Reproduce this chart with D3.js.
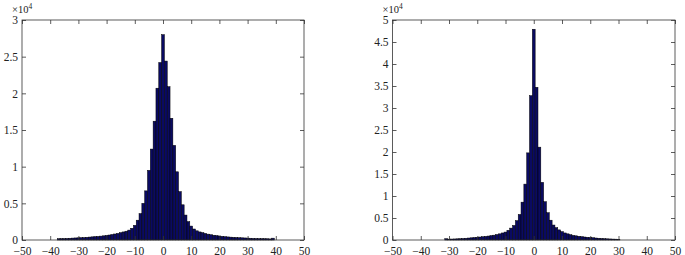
<!DOCTYPE html>
<html>
<head>
<meta charset="utf-8">
<script src="https://cdn.jsdelivr.net/npm/d3@7"></script>
<style>
  html, body { margin: 0; padding: 0; background: #fff; }
  svg { display: block; }
  text { font-family: "Liberation Serif", "DejaVu Serif", serif; fill: #222; }
</style>
</head>
<body>
<svg id="chart" width="685" height="255"></svg>
<script>
// ---------- DATA ----------
const xTicks = [-50, -40, -30, -20, -10, 0, 10, 20, 30, 40, 50];
const leftYTicks = [0, 0.5, 1, 1.5, 2, 2.5, 3];
const rightYTicks = [0, 0.5, 1, 1.5, 2, 2.5, 3, 3.5, 4, 4.5, 5];
const yExponent = "4";

// left histogram: bin centers -37 .. 39
const leftStart = -37;
const leftCounts = [
  180, 190, 200, 220, 240, 260, 280, 300, 320, 340, 370, 400, 430, 460, 490, 530, 570, 620, 680, 750,
  820, 900, 1000, 1100, 1200, 1350, 1600, 2000, 2700, 3600, 5000, 6700, 9500, 12400, 16200, 20700, 24200,
  28000,
  24400, 20900, 16600, 12900, 9300, 6600, 4800, 3400, 2500, 1900, 1500, 1250, 1100, 1000, 900, 800,
  720, 650, 600, 550, 500, 460, 420, 390, 360, 340, 320, 300, 280, 260, 240, 220, 210, 200, 190, 180, 170,
  150, 250
];

// right histogram: bin centers -31 .. 30
const rightStart = -31;
const rightCounts = [
  300, 200, 220, 240, 270, 300, 350, 400, 450, 500, 560, 620, 680, 750, 820, 900, 1000, 1100, 1250, 1400,
  1600, 1800, 2200, 2700, 3300, 4400, 5800, 8600, 12700, 19800, 32800,
  47900,
  34700, 21100, 13100, 8700, 6200, 4500, 3400, 2800, 2300, 1900, 1600, 1400, 1200, 1050, 950, 850, 760,
  680, 620, 580, 520, 450, 400, 350, 300, 270, 240, 210, 190, 170
];

// ---------- DRAW ----------
const svg = d3.select("#chart");
const FONT = "Liberation Serif, DejaVu Serif, serif";

function panel(opts) {
  const { left, right, top, bottom, yMax, yTicks, start, counts } = opts;
  const x = d3.scaleLinear().domain([-50, 50]).range([left, right]);
  const y = d3.scaleLinear().domain([0, yMax]).range([bottom, top]);
  const g = svg.append("g");

  const bins = counts.map((c, i) => ({ v: start + i, c }));

  g.append("g").selectAll("rect").data(bins).join("rect")
    .attr("x", d => x(d.v - 0.5))
    .attr("width", d => x(d.v + 0.5) - x(d.v - 0.5))
    .attr("y", d => y(d.c / 1e4))
    .attr("height", d => bottom - y(d.c / 1e4))
    .attr("fill", "#0a0a62")
    .attr("stroke", "#000")
    .attr("stroke-width", 0.5);

  const tl = 4;
  // bottom axis (ticks inward)
  const xb = g.append("g").attr("transform", `translate(0,${bottom})`)
    .call(d3.axisBottom(x).tickValues(xTicks).tickSizeInner(-tl).tickSizeOuter(0)
      .tickFormat(d => d < 0 ? "\u2212" + Math.abs(d) : String(d)))
    .attr("font-family", FONT).attr("font-size", 11.5);
  xb.selectAll("text").attr("dy", null).attr("y", 14.5).attr("fill", "#222");
  // top axis ticks
  g.append("g").attr("transform", `translate(0,${top})`)
    .call(d3.axisTop(x).tickValues(xTicks).tickSizeInner(-tl).tickSizeOuter(0).tickFormat(""));
  // left axis
  const yl = g.append("g").attr("transform", `translate(${left},0)`)
    .call(d3.axisLeft(y).tickValues(yTicks).tickSizeInner(-tl).tickSizeOuter(0)
      .tickFormat(d => String(d)))
    .attr("font-family", FONT).attr("font-size", 11.5);
  yl.selectAll("text").attr("x", -4).attr("dy", "0.32em").attr("fill", "#222");
  // right axis ticks
  g.append("g").attr("transform", `translate(${right},0)`)
    .call(d3.axisRight(y).tickValues(yTicks).tickSizeInner(-tl).tickSizeOuter(0).tickFormat(""));

  g.selectAll(".domain").remove();
  g.selectAll(".tick line").attr("stroke", "#333").attr("stroke-width", 0.8);

  // box
  g.append("rect").attr("x", left).attr("y", top)
    .attr("width", right - left).attr("height", bottom - top)
    .attr("fill", "none").attr("stroke", "#333").attr("stroke-width", 0.8);

  // exponent label
  const t = g.append("text").attr("x", left - 10).attr("y", 13)
    .attr("font-family", FONT).style("font-size", "10.5px");
  t.append("tspan").text("\u00d710");
  t.append("tspan").attr("dy", -4).style("font-size", "7.5px").text(yExponent);
}

panel({ left: 22, right: 304, top: 20, bottom: 240, yMax: 3, yTicks: leftYTicks,
        start: leftStart, counts: leftCounts });
panel({ left: 392.5, right: 675, top: 20, bottom: 240, yMax: 5, yTicks: rightYTicks,
        start: rightStart, counts: rightCounts });
</script>
</body>
</html>
